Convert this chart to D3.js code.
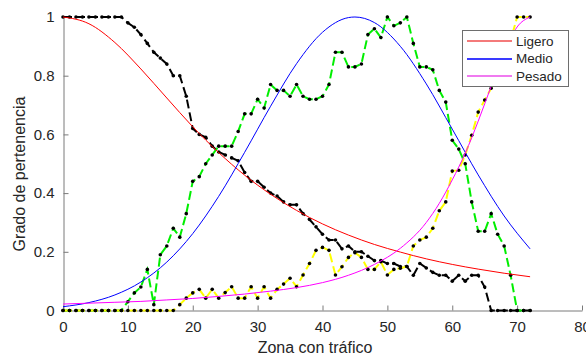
<!DOCTYPE html>
<html><head><meta charset="utf-8">
<script src="https://cdn.jsdelivr.net/npm/d3@7"></script>
<style>
body{margin:0;background:#fff;}
text{font-family:"Liberation Sans",Arial,Helvetica,sans-serif;}
</style></head>
<body><svg id="c" width="586" height="358"></svg>
<script>
// ---- data ----
const xData = d3.range(0, 73); // zones 0..72
const ligeroData = [1,1,1,1,1,1,1,1,1,1,0.98,0.965,0.94,0.91,0.88,0.86,0.84,0.80,0.80,0.73,
 0.62,0.60,0.59,0.56,0.54,0.53,0.52,0.51,0.47,0.44,0.44,0.42,0.40,0.39,0.37,0.36,0.36,0.33,0.31,0.285,
 0.26,0.24,0.24,0.21,0.22,0.20,0.20,0.185,0.17,0.17,0.16,0.16,0.15,0.15,0.12,0.16,0.145,0.13,0.12,0.12,
 0.10,0.12,0.10,0.12,0.12,0.08,0,0,0,0,0,0,0];
const medioData = [0,0,0,0,0,0,0,0,0,0,0.03,0.06,0.08,0.14,0.02,0.19,0.22,0.28,0.25,0.33,
 0.44,0.456,0.50,0.53,0.56,0.56,0.56,0.61,0.67,0.67,0.72,0.69,0.77,0.75,0.75,0.73,0.77,0.73,0.72,0.72,
 0.73,0.77,0.88,0.88,0.83,0.83,0.84,0.94,0.96,0.93,1.0,0.97,0.98,1.0,0.91,0.83,0.83,0.82,0.75,0.71,
 0.58,0.55,0.50,0.37,0.27,0.27,0.33,0.26,0.22,0.12,0,0,0];
const pesadoData = [0,0,0,0,0,0,0,0,0,0,0,0,0,0,0,0,0,0,0.02,0.042,
 0.06,0.072,0.042,0.072,0.042,0.061,0.081,0.042,0.042,0.081,0.042,0.081,0.042,0.072,0.09,0.11,0.081,0.121,0.16,0.205,
 0.215,0.205,0.121,0.149,0.181,0.197,0.181,0.14,0.14,0.166,0.121,0.14,0.144,0.15,0.22,0.24,0.25,0.28,0.34,0.37,
 0.475,0.478,0.53,0.597,0.676,0.717,0.757,0.81,0.86,0.92,1.0,1.0,1.0];

// membership curves, read at sample points
const ligeroCurveX = [0,4,8,12,16,20,24,28,32,36,40,44,48,52,56,60,64,68,72];
const ligeroCurveY = [1,0.977,0.913,0.823,0.724,0.626,0.538,0.461,0.396,0.341,0.295,0.257,0.225,0.199,0.176,0.157,0.141,0.127,0.115];
const medioCurveX = [0,4,8,12,16,20,24,28,32,36,40,44,45,48,52,56,60,64,68,72];
const medioCurveY = [0.013,0.027,0.053,0.097,0.165,0.262,0.389,0.539,0.696,0.841,0.948,0.998,1.0,0.981,0.90,0.772,0.618,0.462,0.322,0.21];
const pesadoCurveX = [0,4,8,12,16,20,24,28,32,36,40,44,48,52,56,58,60,62,64,66,68,70,72];
const pesadoCurveY = [0.022,0.025,0.028,0.031,0.036,0.041,0.048,0.056,0.066,0.078,0.095,0.12,0.157,0.212,0.30,0.365,0.445,0.536,0.645,0.764,0.878,0.966,1.0];

const xTicks = [0,10,20,30,40,50,60,70,80];
const yTicks = [0,0.2,0.4,0.6,0.8,1];
const legendNames = ["Ligero","Medio","Pesado"];
const curveColors = ["#ff0000","#0000ff","#ff00ff"];
const legendSwatchColors = ["#f47a7a","#3a3aff","#f07af0"];

// ---- drawing ----
const svg = d3.select("#c");
const x = d3.scaleLinear().domain([0,80]).range([63,582]);
const y = d3.scaleLinear().domain([0,1]).range([310.5,17]);
const axisColor = "#7a7a7a";
const textColor = "#262626";

const gx = svg.append("g").attr("transform","translate(0,310.5)")
  .call(d3.axisBottom(x).tickValues(xTicks).tickFormat(d3.format("d")).tickSizeInner(-5).tickSizeOuter(0).tickPadding(11));
const gy = svg.append("g").attr("transform","translate(63.5,0)")
  .call(d3.axisLeft(y).tickValues(yTicks).tickFormat(d=>d===0?"0":d===1?"1":d3.format(".1f")(d)).tickSizeInner(-5).tickSizeOuter(0).tickPadding(9));
[gx,gy].forEach(g=>{
  g.select(".domain").attr("stroke",axisColor);
  g.selectAll(".tick line").attr("stroke",axisColor);
  g.selectAll(".tick text").attr("fill",textColor).style("font-size","15px").style("font-family",'"Liberation Sans",Arial,sans-serif');
});

const dataLine = d3.line().x((d,i)=>x(xData[i])).y(d=>y(d));
const series = [
  {vals: ligeroData, color:"#000000"},
  {vals: medioData, color:"#00ee00"},
  {vals: pesadoData, color:"#ffff00"}
];
series.forEach(s=>{
  svg.append("path").attr("d", dataLine(s.vals)).attr("fill","none")
    .attr("stroke", s.color).attr("stroke-width",2).attr("stroke-dasharray","9,4");
});
series.forEach(s=>{
  svg.append("g").selectAll("circle").data(s.vals).join("circle")
    .attr("cx",(d,i)=>x(xData[i])).attr("cy",d=>y(d)).attr("r",1.8).attr("fill","#000");
});

const curveLine = d3.line().curve(d3.curveMonotoneX);
[[ligeroCurveX,ligeroCurveY],[medioCurveX,medioCurveY],[pesadoCurveX,pesadoCurveY]].forEach((c,k)=>{
  const pts = c[0].map((xv,i)=>[x(xv), y(c[1][i])]);
  svg.append("path").attr("d", curveLine(pts)).attr("fill","none")
    .attr("stroke", curveColors[k]).attr("stroke-width",1);
});

// axis labels
svg.append("text").attr("x",315).attr("y",353).attr("text-anchor","middle")
  .attr("fill",textColor).style("font-size","16px").text("Zona con tráfico");
svg.append("text").attr("transform","translate(25,174) rotate(-90)").attr("text-anchor","middle")
  .attr("fill",textColor).style("font-size","16px").text("Grado de pertenencia");

// legend
const lg = svg.append("g");
lg.append("rect").attr("x",462.5).attr("y",30.5).attr("width",106).attr("height",56)
  .attr("fill","#fff").attr("stroke","#6e6e6e").attr("stroke-width",1);
legendNames.forEach((n,i)=>{
  const yy = 41 + i*17.5;
  lg.append("rect").attr("x",467).attr("width",45)
    .attr("y",Math.round(yy) - 1).attr("height",2)
    .attr("fill",legendSwatchColors[i]);
  lg.append("text").attr("x",516).attr("y",yy).attr("dy","0.35em")
    .attr("fill",textColor).style("font-size","13.5px").text(n);
});
</script></body></html>
